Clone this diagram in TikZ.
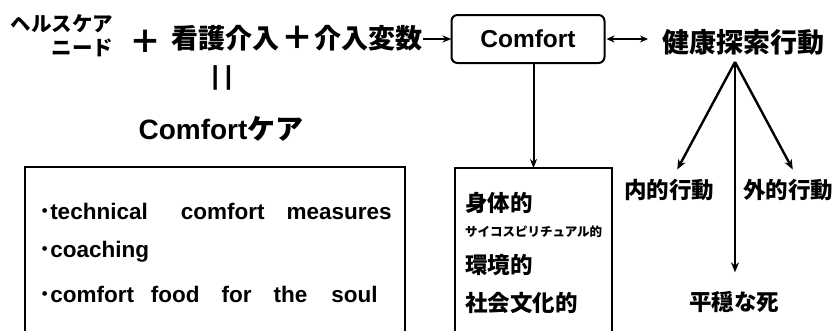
\documentclass[tikz,border=0pt]{standalone}
\usepackage{fontspec}
\setmainfont{Liberation Sans}
\newfontfamily\jp{Noto Sans CJK JP}
\usetikzlibrary{arrows.meta}
\newcommand\fsz[1]{\fontsize{#1}{#1}\selectfont}
\begin{document}
\begin{tikzpicture}[x=1pt,y=-1pt,
  every node/.style={inner sep=0pt, outer sep=0pt},
  jpbig/.style={font=\jp\bfseries\fsz{27}},
  jpmid/.style={font=\jp\bfseries\fsz{22.5}},
  lat/.style={font=\bfseries\fsz{22.5}},
  boxline/.style={draw, line width=2pt},
  arr/.style={line width=2.4pt, -{Stealth[length=10pt,width=8pt]}},
  thinarr/.style={line width=2pt, -{Stealth[length=9pt,width=7pt]}},
  darr/.style={line width=1.8pt, {Stealth[length=8pt,width=7pt]}-{Stealth[length=8pt,width=7pt]}}
]
\useasboundingbox (0,0) rectangle (835,330);
% top row
\node[font=\jp\bfseries\fontsize{20.5}{24}\selectfont, align=right, anchor=east] (needs) at (113,36) {ヘルスケア\\ニード};
\node[font=\jp\bfseries\fsz{32}] (plus1) at (145,42) {＋};
\node[jpbig] (kango) at (225,38) {看護介入};
\node[font=\jp\bfseries\fsz{32}] (plus2) at (297,38) {＋};
\node[jpbig] (hensu) at (368,38) {介入変数};
\node[boxline, rounded corners=6pt, minimum width=153pt, minimum height=48pt, font=\bfseries\fsz{24.5}] (comfort) at (528,39) {Comfort};
\node[jpbig] (kenko) at (743,42) {健康探索行動};
\draw[thinarr] (hensu.east |- comfort.west) ++(1pt,0) coordinate (hs) (hs) -- (comfort.west);
\draw[darr, shorten >=14pt, shorten <=2pt] (comfort.east) -- (comfort.east -| kenko.west);
% equals and Comfort care
\node[font=\bfseries\fsz{26}] (eq) at (222,78) {|\kern6pt|};
\node[font=\bfseries\fsz{28}] (ccare) at (221,129) {Comfort{\jp ケア}};
% left box
\node[boxline, minimum width=380pt, minimum height=180pt, anchor=north west] (lbox) at (25,167) {};
\node[lat, anchor=west] (i1) at (39,211) {{\jp ･}technical\hspace{33pt}comfort\hspace{22pt}measures};
\node[lat, anchor=west] (i2) at (39,252) {{\jp ･}coaching};
\node[lat, anchor=west] (i3) at (39,294) {{\jp ･}comfort\hspace{17pt}food\hspace{22pt}for\hspace{22pt}the\hspace{24pt}soul};
% middle box
\node[boxline, minimum width=157pt, minimum height=180pt, anchor=north west] (mbox) at (455,168) {};
\node[jpmid, anchor=west] (m1) at (465,203) {身体的};
\node[font=\jp\bfseries\fsz{12.5}, anchor=west] (m2) at (465,232) {サイコスピリチュアル的};
\node[jpmid, anchor=west] (m3) at (465,265) {環境的};
\node[jpmid, anchor=west] (m4) at (465,303) {社会文化的};
\draw[thinarr] (comfort.south -| mbox.north) -- (mbox.north);
% right side
\node[jpmid] (naiteki) at (669,190) {内的行動};
\node[jpmid] (gaiteki) at (788,190) {外的行動};
\node[jpmid] (heion) at (734,302) {平穏な死};
\coordinate (apex) at (735,62);
\draw[arr, shorten >=11pt] (apex) -- ([xshift=3pt]naiteki.north);
\draw[arr, shorten >=11pt] (apex) -- ([xshift=10pt]gaiteki.north);
\draw[arr, shorten >=19pt] (apex) -- (apex |- heion.north);
\end{tikzpicture}
\end{document}
